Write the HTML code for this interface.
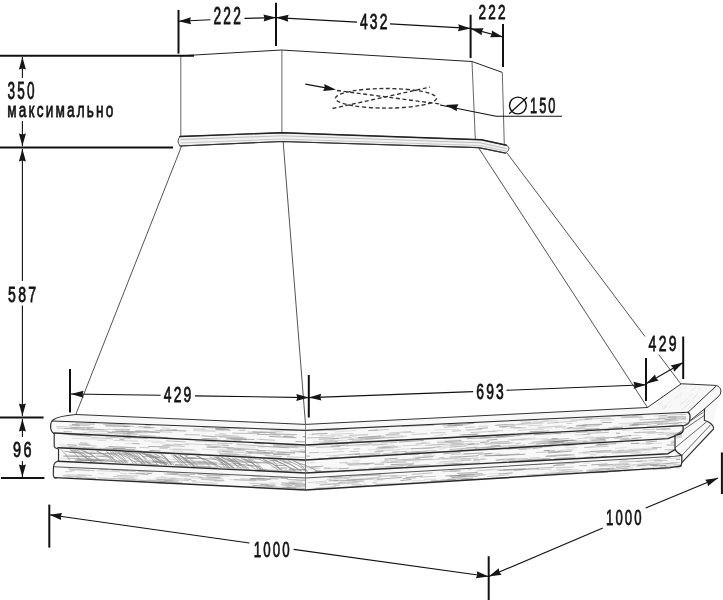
<!DOCTYPE html>
<html><head><meta charset="utf-8"><style>html,body{margin:0;padding:0;background:#fff;overflow:hidden}svg{display:block;will-change:transform}</style></head>
<body><svg width="723" height="600" viewBox="0 0 723 600">
<rect width="723" height="600" fill="#fff"/>
<path d="M75.8,414.5 L305.5,424.4 L647.5,407.5 L681,384.2 L715.8,386.3 Q722,388 720,393 L712,428 L683,465 L305.5,490 L54,477.5 Q51,470 54,466.7 L58,461 L58,449 L54,447 L54,434.5 L51,432 L51,422 Q52,417 75.8,414.5 Z" fill="#f8f8f8"/>
<path d="M260.0 431.3L279.6 431.5M329.2 430.6L335.4 430.2M134.0 427.3L153.1 428.6M354.7 438.0L360.1 437.9M319.9 435.6L337.5 435.3M654.6 422.4L676.4 421.2M176.1 438.7L190.7 438.9M528.3 429.9L543.8 429.4M70.6 433.3L87.2 433.7M563.8 429.0L585.6 427.5M73.4 429.4L88.5 430.2M576.7 430.2L596.5 429.0M621.6 424.2L645.1 423.0M439.4 435.0L447.0 434.2M512.9 428.4L524.7 427.9M341.0 436.9L356.5 436.6M98.0 433.6L112.9 434.1M327.4 430.4L347.3 429.3M83.6 432.6L109.0 433.9M364.3 427.7L387.4 426.9M672.2 424.6L676.6 424.4M613.1 426.3L632.2 425.8M443.4 426.2L468.3 425.0M668.5 416.7L675.1 416.0M109.6 433.1L113.6 432.9M386.4 435.2L399.7 434.2M284.3 435.9L288.4 435.8M201.4 430.0L223.7 430.6M653.7 416.1L667.2 415.1M562.1 419.3L570.8 418.4M526.3 429.4L552.4 427.8M561.6 428.2L585.4 427.3M204.8 438.5L219.8 439.5M434.3 435.9L443.0 435.0M569.3 428.7L583.1 427.9M313.1 441.9L333.1 440.4M583.5 418.0L609.4 416.6M578.4 420.3L587.6 419.7M488.3 431.8L497.6 431.7M334.6 432.1L356.5 430.4M319.1 435.6L324.3 435.3M309.2 434.6L313.5 434.6M618.4 423.5L636.3 422.7M518.1 424.1L543.8 422.3M382.5 436.2L402.0 435.1M504.4 425.0L521.7 424.1M434.8 430.0L459.2 429.3M520.2 421.4L538.3 420.4M491.2 446.7L518.4 445.2M367.9 443.7L387.2 442.1M671.0 433.9L682.0 432.8M494.9 443.4L514.5 442.7M520.6 440.2L548.3 438.3M151.6 442.7L164.9 442.8M623.0 438.5L630.4 438.5M437.6 448.1L465.0 446.0M549.3 443.5L558.1 443.2M549.9 444.3L568.6 443.4M595.9 432.3L600.7 431.5M547.2 440.2L558.2 439.0M263.9 452.5L291.3 454.3M201.8 449.1L227.3 450.8M77.0 448.6L101.8 449.8M217.0 449.7L236.4 451.1M163.7 452.2L190.3 453.0M556.1 434.1L580.1 432.3M124.4 443.6L140.0 444.0M584.0 437.5L593.5 436.6M642.9 432.5L657.0 432.1M212.1 447.4L231.2 448.1M562.6 443.3L587.8 441.2M236.0 446.8L255.5 447.3M656.4 438.2L682.0 436.2M629.2 435.6L639.7 435.3M181.9 450.0L197.0 450.8M401.0 449.1L413.4 448.6M143.8 440.8L162.5 441.4M58.7 444.7L76.8 445.6M72.0 438.2L97.5 439.2M540.2 440.2L568.2 438.6M659.8 432.7L674.3 432.1M314.1 445.7L331.6 444.3M423.0 448.6L431.7 448.1M415.6 445.5L422.5 444.7M439.7 449.5L445.2 448.6M337.6 449.6L342.9 449.7M436.7 441.5L461.7 439.7M276.4 453.5L284.8 453.4M325.6 455.5L333.4 455.3M250.6 452.3L258.9 453.1M367.7 449.8L393.9 448.5M525.2 434.7L545.9 433.5M362.4 445.2L389.3 444.1M219.5 449.5L246.8 451.0M171.5 451.0L183.2 451.4M356.1 446.0L369.0 444.7M621.9 430.6L633.0 429.9M478.7 444.1L494.0 443.3M469.5 442.0L487.4 440.9M199.1 462.7L205.8 463.1M561.4 450.4L573.9 449.5M551.5 446.0L559.9 445.9M200.7 467.5L217.1 468.1M227.4 460.2L243.4 460.7M412.1 462.0L419.5 461.8M614.2 443.4L623.0 442.8M478.3 454.5L500.7 453.5M205.5 455.4L210.6 455.6M651.4 448.8L657.3 448.8M628.1 449.6L655.8 447.5M271.3 467.5L296.1 468.3M358.1 468.8L366.0 468.6M668.5 451.0L674.0 450.2M480.5 456.3L500.5 455.1M60.6 458.2L85.1 459.4M221.0 467.1L245.6 468.1M352.6 460.6L360.1 460.7M154.5 456.4L160.9 456.5M486.7 456.0L502.2 455.5M442.4 459.5L465.6 457.9M183.3 461.9L188.7 461.8M85.6 459.5L112.9 460.8M557.8 450.6L571.1 449.9M262.3 459.1L284.4 460.0M565.9 447.9L578.0 447.6M586.0 447.6L594.8 446.5M284.6 469.6L293.4 470.6M467.6 460.8L471.8 460.0M85.6 460.6L96.7 460.8M307.9 463.0L314.9 462.2M443.3 453.7L461.0 452.2M83.2 456.5L95.1 456.6M615.5 452.8L639.5 451.8M161.1 458.5L180.5 460.0M207.4 463.3L224.9 464.6M642.1 443.9L662.3 443.0M615.1 448.4L626.5 447.5M70.0 450.2L93.5 451.3M630.2 454.0L650.2 452.4M402.3 460.8L424.3 460.0M451.2 462.3L462.7 461.3M219.5 466.2L224.5 466.8M583.1 453.6L601.0 452.4M497.2 459.7L515.7 458.7M194.1 461.0L216.4 462.0M454.0 459.5L468.4 459.3M98.5 453.0L102.8 453.6M635.6 443.7L646.3 443.4M423.0 455.1L431.8 454.5M625.2 451.4L651.1 450.3M582.8 452.0L606.5 450.7M436.3 463.3L453.2 462.6M494.8 459.4L514.9 458.8M535.7 464.9L541.5 464.1M189.5 477.7L217.1 479.5M557.5 463.7L574.4 462.6M655.4 459.2L680.0 457.9M657.7 465.3L675.9 464.4M98.4 473.5L104.3 474.0M583.7 463.1L589.8 463.1M75.8 470.0L89.7 470.9M289.3 479.6L305.5 480.3M599.2 466.3L615.9 465.8M301.9 479.6L305.5 479.7M269.2 482.6L277.7 483.5M549.8 467.0L556.0 466.9M344.1 478.5L351.0 478.2M376.0 483.8L396.7 483.1M63.9 474.8L86.0 476.2M394.7 483.9L414.5 483.2M362.6 483.9L366.8 484.1M66.9 474.7L92.0 475.4M281.7 488.0L290.7 487.9M665.0 465.7L671.7 465.3M360.8 474.9L385.6 473.9M478.8 470.0L493.9 469.3M351.2 479.1L367.6 478.1M424.2 479.4L436.3 479.3M440.6 479.9L455.2 478.8M66.5 476.2L72.1 476.8M334.0 484.2L359.7 483.0M549.5 471.0L564.4 470.5M153.7 478.8L169.7 480.1M411.6 480.8L425.4 480.5M149.0 479.8L166.8 481.2M229.4 479.4L255.5 481.1M84.9 477.5L108.4 478.4M430.9 481.2L436.8 480.6M626.9 469.8L642.2 469.4M222.3 485.6L228.4 485.7M488.5 473.9L500.9 473.4M119.4 480.1L129.9 481.1M215.2 476.0L223.0 475.9" stroke="#ccc" stroke-width="0.6" fill="none"/>
<path d="M115.3 431.1L141.1 431.9M120.9 431.2L129.4 431.1M159.9 430.0L186.3 431.0M70.2 427.7L78.2 427.6M303.2 436.7L305.5 436.8M681.7 418.8L686.0 418.0M631.9 424.7L643.1 424.3M268.8 436.4L296.4 437.7M358.1 437.6L381.3 435.9M401.4 426.3L424.6 425.5M230.5 438.6L246.6 439.4M585.2 419.3L592.1 418.9M478.8 428.5L487.9 427.8M215.5 429.3L230.7 430.2M499.0 426.9L515.4 425.8M127.1 435.6L136.6 436.5M150.1 436.7L167.8 437.7M226.4 438.8L254.3 439.5M143.8 431.6L159.9 432.7M201.4 435.7L216.4 436.8M447.3 425.9L462.9 425.2M201.8 438.8L217.4 439.0M215.5 428.2L228.9 429.2M283.2 436.3L293.9 436.2M311.9 434.1L327.5 433.5M143.9 427.3L150.1 427.4M257.2 434.3L280.6 435.0M657.0 424.5L681.9 422.6M368.3 430.6L377.7 430.0M584.7 429.9L599.3 428.6M295.5 441.5L305.5 441.9M567.4 428.2L572.4 427.4M631.5 425.4L638.7 425.0M105.8 425.9L127.8 426.4M612.6 428.4L622.9 427.3M318.6 439.2L338.8 438.5M601.7 422.6L611.9 422.4M252.7 431.8L275.8 432.8M107.8 432.5L130.5 433.6M529.8 431.7L549.5 431.0M664.7 419.5L681.2 418.9M222.8 441.0L240.7 441.6M467.5 423.2L471.5 422.8M71.9 424.4L79.7 425.2M668.3 417.3L686.0 416.9M448.3 425.0L474.1 423.4M126.5 432.1L134.4 433.0M75.4 423.9L94.9 424.1M123.5 426.7L130.2 426.4M575.8 426.1L586.7 425.1M443.0 438.3L457.0 437.4M273.1 454.4L290.0 454.8M261.4 446.2L288.8 447.8M553.6 441.9L568.0 440.7M616.0 433.2L620.2 433.3M533.5 434.8L561.1 433.2M105.2 448.0L125.3 448.5M221.6 445.0L228.9 445.4M318.2 458.7L324.0 458.5M68.9 434.7L90.5 436.3M123.9 437.3L147.6 438.4M119.5 439.3L124.3 439.9M457.7 450.1L463.1 449.9M616.8 436.9L631.0 435.5M475.1 448.5L501.1 446.4M63.1 433.8L82.8 435.1M487.0 440.3L497.5 439.3M549.1 442.0L576.7 440.2M480.2 442.6L489.2 441.8M551.6 438.5L557.7 438.6M256.9 450.8L265.8 450.9M253.7 443.2L264.4 443.8M536.3 444.0L563.4 442.1M268.1 458.1L281.2 458.2M404.9 452.4L419.9 452.0M596.2 438.3L622.4 437.0M598.6 441.2L605.9 440.7M330.8 446.3L344.8 445.3M495.9 436.6L520.7 435.5M226.9 448.7L245.0 449.9M148.2 446.4L170.1 447.1M143.3 451.6L165.9 453.2M222.4 451.5L232.9 452.1M444.9 441.6L461.4 440.6M547.4 442.0L573.3 440.0M149.7 450.3L160.4 451.0M276.9 452.0L295.2 453.1M656.2 429.3L670.4 429.0M678.1 433.5L682.0 433.2M248.0 452.9L252.1 452.9M246.1 451.6L273.1 452.9M305.5 456.0L310.1 456.2M113.3 448.5L134.9 449.9M467.6 444.7L479.1 443.9M490.9 446.1L500.4 445.2M218.9 455.2L227.0 455.4M108.6 446.5L136.1 447.9M631.7 438.6L641.8 437.5M410.9 448.8L434.5 447.7M591.4 440.4L605.6 439.3M467.0 438.7L491.7 437.4M399.1 442.0L423.8 440.4M590.2 451.5L611.3 450.7M394.2 467.8L402.8 467.3M85.6 458.9L112.6 460.1M289.0 469.1L305.5 469.9M486.1 449.7L513.8 448.0M390.6 464.6L414.0 463.8M75.2 462.0L90.9 462.7M233.5 463.5L239.9 463.5M269.5 460.4L278.0 460.9M452.9 464.1L462.0 463.4M458.4 457.0L478.7 455.7M666.5 445.0L674.0 445.1M152.5 461.2L166.1 462.4M258.8 469.6L265.4 470.2M645.9 442.2L657.1 441.0M670.8 443.3L674.0 442.6M601.5 456.7L606.3 456.1M83.3 456.3L92.8 456.6M507.3 448.9L532.8 446.9M197.5 462.2L216.7 463.2M69.3 452.4L96.5 453.4M310.6 467.4L323.3 466.1M527.2 459.5L550.5 458.7M153.6 461.7L161.9 462.6M228.6 461.0L238.4 461.8M314.6 471.7L334.1 471.0M532.7 448.5L542.0 447.5M122.4 452.4L144.5 453.6M484.3 455.7L502.3 455.3M595.4 445.3L607.4 444.6M185.2 457.2L193.5 458.0M149.5 464.6L158.5 464.5M323.9 468.1L330.7 468.2M463.7 454.0L483.4 452.9M238.5 461.8L260.5 462.8M183.1 458.2L194.4 458.8M415.4 458.1L433.3 456.5M275.0 465.3L287.0 465.7M543.7 450.6L549.3 450.4M518.6 449.3L526.5 448.7M546.1 456.1L555.2 455.9M193.6 458.2L216.2 459.3M243.6 469.6L260.3 470.9M339.1 468.9L349.1 468.2M283.3 471.7L288.7 472.3M238.8 464.3L252.9 465.5M484.2 453.8L492.1 453.4M547.3 451.1L554.7 450.7M159.6 462.9L167.7 463.1M300.5 469.4L305.5 469.6M247.6 465.4L260.3 466.6M597.6 444.4L616.1 443.7M631.0 443.5L639.3 443.3M190.8 463.7L217.0 464.4M190.8 457.8L197.1 458.3M96.3 456.1L113.6 457.3M537.7 446.7L553.9 445.7M374.4 464.2L383.9 464.1M553.8 459.1L565.7 459.0M519.1 460.8L545.1 459.6M247.7 457.9L255.9 458.2M548.0 452.9L571.7 451.1M384.4 459.2L397.7 458.2M76.9 459.9L104.3 460.7M64.5 451.3L77.0 452.4M500.1 455.5L525.3 454.2M63.0 456.1L84.9 456.8M89.9 453.0L116.2 454.0M347.3 464.3L374.3 463.1M174.8 464.5L182.7 464.9M373.0 468.8L386.2 468.6M74.8 460.0L98.3 461.0M460.7 479.9L482.3 478.9M257.4 478.7L270.7 479.6M589.5 471.0L609.6 469.6M250.7 479.1L255.8 479.3M295.0 485.7L305.5 486.2M281.4 482.9L305.5 484.1M449.7 471.1L460.5 470.9M130.7 481.2L146.3 481.6M447.6 479.5L473.3 478.2M624.1 471.0L631.3 470.3M659.9 465.9L666.2 465.5M313.1 489.1L323.3 488.9M445.5 475.9L465.7 475.1M346.5 480.0L373.8 478.9M135.6 473.3L144.8 473.4M286.4 487.4L305.5 488.4M615.8 467.3L629.7 466.5M99.7 468.9L107.9 469.5M503.4 469.7L526.5 468.7M206.3 477.0L220.5 477.7M598.8 469.2L614.3 468.1M139.0 480.3L165.7 481.7M328.9 478.0L342.4 476.7M75.9 477.7L96.0 478.8M164.4 480.6L178.6 481.1M328.7 480.8L338.4 480.5M590.9 472.5L615.8 471.1M281.2 477.9L288.0 478.7M513.9 470.1L538.8 468.7M607.1 471.9L621.5 470.9M638.0 465.6L645.4 465.3M499.4 470.4L523.5 469.6M146.3 473.1L152.0 473.7M458.8 475.0L482.8 473.7M650.1 465.5L657.8 465.2M400.4 480.6L411.2 479.5M250.1 478.5L264.6 478.7M665.5 457.9L670.9 457.1M260.6 484.5L268.6 484.8M159.3 481.7L182.4 482.9M451.2 477.7L467.5 476.3M676.0 459.5L680.0 459.4M591.7 472.8L607.5 472.3M457.3 473.4L477.7 472.5M591.3 464.9L607.5 463.9M156.5 482.6L167.8 483.7M449.6 476.4L474.1 474.8M498.6 474.1L512.7 472.9M184.4 478.8L191.2 479.5M483.0 478.7L510.8 477.2M652.8 465.9L666.0 465.7M377.0 479.4L401.9 477.4M553.2 465.5L564.7 464.9M405.7 477.6L422.8 476.0M353.3 475.9L380.7 474.9" stroke="#777" stroke-width="0.6" fill="none"/>
<path d="M424.9 425.7L434.2 425.3M238.5 430.3L245.3 430.4M349.3 441.7L362.0 440.7M659.4 415.9L667.6 415.2M63.6 431.6L72.0 431.8M494.6 425.5L507.4 424.4M391.5 437.6L403.4 436.6M657.7 418.7L666.9 417.9M629.2 425.2L651.2 424.0M347.8 439.4L353.8 438.7M387.7 439.7L402.2 439.4M138.4 426.5L154.6 427.6M360.0 439.2L385.2 437.3M608.2 428.1L618.4 427.6M621.1 417.8L642.3 417.0M306.9 438.0L334.7 437.0M223.3 428.1L246.0 428.7M647.2 422.5L670.4 420.8M319.2 443.2L338.1 441.6M452.1 431.2L461.0 430.7M667.3 417.5L676.5 416.8M247.7 432.0L265.7 432.8M510.0 427.8L520.8 427.4M576.6 425.5L602.1 424.4M582.6 424.9L601.6 424.1M214.9 428.3L225.3 429.0M357.8 438.1L380.2 437.0M665.9 419.4L676.4 418.5M135.3 431.0L154.4 432.2M462.1 435.2L477.5 434.0M74.4 427.3L94.0 427.6M98.5 429.3L107.3 430.0M517.6 433.6L544.0 432.0M232.3 433.1L259.2 433.7M87.0 428.6L100.0 429.6M259.7 439.4L275.1 440.3M633.4 423.2L660.0 421.3M321.3 444.0L348.6 442.1M521.0 423.3L530.9 422.5M632.1 415.6L643.1 414.7M270.2 429.9L298.2 430.5M316.9 430.3L339.3 429.6M302.2 436.7L305.5 436.9M112.1 431.4L125.0 432.0M365.0 439.3L392.2 437.5M639.5 419.9L665.2 418.8M459.4 435.0L478.3 434.1M154.6 430.0L162.2 430.9M349.1 435.3L368.0 434.7M113.8 429.3L130.0 429.5M596.0 429.4L617.5 428.6M138.9 435.7L149.8 436.6M157.6 437.2L177.9 438.6M385.5 434.6L399.5 433.7M184.6 434.6L200.0 434.9M63.8 428.5L90.4 429.2M610.4 416.3L620.7 415.5M219.1 455.0L229.9 455.2M162.1 445.2L184.7 446.4M244.7 453.0L269.0 453.7M666.2 435.3L682.0 434.2M159.0 448.1L167.7 448.1M490.1 442.6L509.3 441.4M68.3 446.4L84.7 447.4M79.9 442.7L87.7 443.4M345.3 445.8L371.6 443.8M531.7 442.1L554.4 440.8M223.4 447.3L233.5 447.7M272.9 446.2L298.6 447.8M359.2 455.5L380.0 454.0M308.7 452.9L319.3 452.3M604.6 430.4L609.5 430.3M335.5 443.7L348.8 443.1M353.6 449.0L360.1 448.9M67.1 444.5L76.9 445.2M633.7 432.7L655.6 431.7M479.7 438.1L502.9 436.7M236.6 444.3L262.0 446.1M273.1 445.1L290.4 446.3M290.1 446.3L305.5 447.0M302.1 452.1L305.5 452.3M216.9 443.1L232.4 443.4M561.5 443.7L586.9 442.2M194.8 440.9L215.9 441.9M316.2 447.3L340.2 446.6M668.6 425.8L682.0 424.9M328.5 457.4L337.7 457.0M165.7 440.8L185.8 441.9M381.4 448.0L397.8 446.6M335.5 443.9L358.8 442.2M403.7 453.6L408.1 453.8M219.6 453.6L238.9 454.5M132.4 443.3L139.7 443.7M173.4 444.1L182.2 444.7M355.1 454.6L359.9 454.1M234.3 456.3L245.4 457.2M298.8 451.8L305.5 452.2M548.7 443.7L564.7 442.6M392.1 452.2L406.5 451.3M111.0 449.3L122.8 450.3M290.4 450.9L305.5 451.6M451.1 445.1L474.7 443.4M411.0 452.0L436.5 450.6M449.6 449.6L476.3 447.5M534.3 433.6L539.6 433.0M77.9 444.2L90.1 444.4M348.4 454.7L358.1 454.0M98.6 448.6L121.9 450.1M232.8 448.1L258.6 449.7M515.5 443.9L520.5 443.0M620.1 439.8L638.1 438.9M374.4 451.6L383.4 451.3M493.0 437.2L514.0 436.2M264.8 455.5L282.0 456.6M576.3 432.4L587.3 431.6M581.6 434.7L590.0 434.4M433.2 447.5L440.6 446.7M378.2 447.8L390.3 447.0M586.9 433.4L608.7 432.4M206.4 447.4L216.7 447.6M408.1 465.6L428.4 464.9M494.4 455.3L519.7 454.0M553.7 456.1L558.0 455.6M129.4 463.7L149.6 464.4M192.8 466.4L211.0 466.7M253.0 462.3L268.6 462.7M342.1 470.9L347.2 470.2M449.7 456.9L460.4 456.7M369.3 468.3L392.7 467.6M303.2 470.2L305.5 470.3M502.8 461.3L526.9 459.8M496.0 460.6L503.8 459.6M443.5 453.8L460.6 452.5M219.1 464.1L240.8 465.6M190.9 466.5L216.5 467.6M555.3 458.4L575.5 457.1M406.4 460.1L432.5 459.1M88.4 459.9L102.9 460.5M141.9 456.4L158.0 457.1M134.0 458.5L141.2 458.8M385.4 466.7L412.4 464.7M583.9 457.6L593.2 456.5M283.6 462.0L291.6 462.3M152.0 461.8L164.8 462.4M177.6 466.6L198.7 467.4M670.9 441.4L674.0 441.1M460.5 463.8L480.2 462.9M565.6 445.2L574.8 444.6M90.1 461.1L95.8 461.5M68.7 458.3L90.4 459.0M473.7 459.7L484.8 458.8M493.6 455.5L507.8 455.2M259.2 468.9L266.8 469.6M300.4 460.3L305.5 460.6M462.1 460.6L470.8 459.7M183.6 460.7L206.0 462.1M80.7 456.2L87.0 456.7M315.0 470.6L320.8 470.5M246.3 461.0L252.8 461.0M364.6 464.1L371.4 463.7M564.3 445.9L576.4 444.7M79.8 459.7L87.3 460.1M152.9 457.5L160.2 457.5M101.8 460.7L125.0 462.1M175.0 465.5L188.8 466.2M134.1 461.0L139.1 461.6M255.6 469.2L278.5 470.4M300.0 459.9L305.5 460.2M664.5 449.9L674.0 449.6M166.6 461.4L194.2 462.9M420.6 466.4L443.2 465.0M305.6 467.0L317.7 466.7M386.5 462.6L406.6 462.0M507.5 459.3L527.8 458.6M652.3 447.8L661.9 447.3M233.0 469.2L250.8 470.3M526.4 448.2L551.9 446.2M554.0 452.3L560.4 451.4M443.5 464.1L459.1 463.4M504.8 449.1L520.1 448.1M618.1 450.6L623.6 450.0M631.2 450.5L657.3 448.7M437.7 458.9L457.8 457.8M665.3 463.8L677.8 462.6M609.0 471.1L620.9 470.7M637.2 465.2L659.8 464.0M502.7 478.1L510.9 477.6M167.0 473.2L178.3 473.6M287.2 479.5L305.5 480.4M234.0 479.7L256.4 480.4M402.5 478.7L416.2 477.8M124.7 480.5L141.3 481.0M664.7 466.9L676.0 466.1M141.9 473.8L148.8 474.7M659.7 467.9L665.4 467.9M411.9 474.4L432.5 472.9M333.6 480.9L355.9 480.2M653.7 460.7L667.6 460.5M252.2 485.3L272.9 486.6M456.7 477.1L477.6 476.4M431.1 480.9L456.1 479.5M164.3 474.0L189.9 475.6M68.1 468.9L94.5 470.7M111.6 470.1L128.0 470.4M253.2 485.5L271.7 486.3M256.5 478.2L278.3 479.0M289.8 482.0L302.9 482.1M527.5 468.5L553.6 467.3M271.5 486.6L295.8 488.3M197.7 474.2L203.3 474.8M636.2 461.7L647.4 460.8M653.0 469.3L670.4 468.6M619.6 462.2L642.4 460.9M378.4 476.3L396.9 475.7M265.7 485.5L275.6 485.6M598.4 465.7L612.9 464.6M69.6 469.9L75.0 470.5M646.9 465.0L673.0 462.9M319.5 485.1L340.5 483.5M201.2 484.6L229.0 486.2M641.8 468.4L654.4 467.9M372.7 482.8L376.8 482.7M171.6 473.9L195.2 474.5M579.1 465.7L587.1 465.7M351.7 484.9L361.7 484.8M156.2 479.3L173.4 480.1M285.4 484.1L305.5 485.1M269.9 477.8L283.0 478.0M367.2 478.3L379.1 477.7M356.0 486.2L364.7 486.3M280.9 484.5L292.1 485.6M570.4 463.0L579.3 462.1M676.2 467.8L680.0 467.8M338.4 482.5L364.6 481.1" stroke="#999" stroke-width="0.6" fill="none"/>
<path d="M411.6 434.4L427.5 433.7M496.4 425.1L514.2 424.3M537.7 427.4L562.7 425.9M430.5 432.9L445.4 432.6M681.7 422.9L686.0 422.5M89.1 422.4L96.8 422.2M442.7 425.2L451.6 424.6M219.3 437.0L246.2 438.2M73.6 424.8L89.7 425.8M219.4 433.5L226.5 434.3M335.2 438.3L351.4 437.5M501.0 434.5L514.7 433.6M231.8 439.0L240.2 439.8M647.0 426.4L657.3 425.4M580.3 426.8L599.6 425.7M674.6 423.4L678.9 423.3M172.8 429.5L176.9 429.5M668.8 420.4L678.6 420.4M193.3 429.1L205.3 429.1M372.7 430.6L388.9 429.2M570.7 420.1L588.8 419.1M470.3 432.6L495.4 431.2M104.8 425.2L114.9 425.9M349.5 439.6L377.4 438.2M103.0 424.3L124.9 424.9M139.5 435.0L155.8 436.2M272.7 434.2L296.9 434.6M584.6 419.1L610.9 418.1M88.5 430.9L107.8 431.3M136.2 430.6L148.5 430.9M226.3 438.1L242.2 438.9M635.5 423.2L646.8 422.2M388.8 433.1L411.1 431.5M56.7 428.0L84.6 429.0M145.4 425.3L150.8 425.4M269.6 433.5L296.6 434.7M123.6 433.0L138.8 434.1M547.2 423.3L557.9 422.5M233.3 440.4L241.8 440.3M122.6 431.6L141.5 432.1M113.4 425.7L134.1 426.4M476.7 428.5L482.0 428.5M81.9 429.4L104.1 429.8M130.2 431.9L147.4 432.9M464.9 427.6L474.9 426.9M566.6 423.7L572.2 423.3M146.5 431.5L172.5 432.2M555.0 422.5L577.5 420.9M214.8 434.8L239.3 436.2M215.8 436.2L243.4 437.5M501.7 427.6L507.2 426.9M106.7 431.6L114.9 432.5M202.3 427.3L214.4 428.0M651.2 423.6L663.0 423.4M554.9 427.4L566.0 426.6M69.2 425.2L80.0 425.9M629.5 425.0L648.0 424.0M415.7 443.8L430.1 443.0M614.3 438.5L628.4 437.9M528.3 443.6L547.8 442.3M382.6 453.7L397.4 452.9M265.1 453.1L285.8 454.1M589.6 439.2L609.0 438.0M449.5 447.2L467.4 445.7M349.7 451.4L359.1 451.4M472.9 447.9L496.0 446.4M357.5 454.3L380.6 452.8M256.5 450.4L275.5 450.9M65.4 433.8L92.2 435.3M543.4 440.2L569.3 438.5M465.8 447.8L477.7 446.9M508.4 446.5L525.5 444.9M286.9 456.7L305.5 457.6M450.2 443.7L463.5 443.3M484.7 444.2L510.2 443.1M90.9 437.4L113.0 438.9M425.2 445.4L444.9 444.3M635.6 432.8L640.2 432.1M257.9 446.8L264.7 446.9M676.4 437.9L682.0 437.1M333.3 455.5L360.0 453.7M105.6 437.1L124.2 438.0M582.5 442.5L599.0 441.3M139.4 447.3L149.4 447.8M79.0 444.8L96.8 446.1M661.6 429.3L670.0 428.3M206.5 445.8L220.9 447.1M566.2 442.6L571.5 442.3M390.2 443.1L397.2 442.2M376.8 447.3L394.8 445.7M157.6 452.0L169.4 452.4M675.3 434.2L682.0 433.7M115.5 448.7L141.6 450.6M293.6 451.8L305.5 452.3M511.2 440.4L526.3 439.0M270.9 451.8L294.5 452.5M285.5 445.5L297.0 445.7M258.1 453.8L270.6 454.0M208.1 446.7L229.3 447.4M164.6 444.1L173.1 445.1M303.9 450.9L305.5 451.0M308.4 446.1L315.4 446.1M372.0 445.3L386.9 444.0M642.4 429.7L655.2 429.3M274.5 443.6L298.5 445.0M482.3 436.2L494.0 435.9M204.9 444.3L221.3 445.1M83.2 447.6L94.5 447.7M336.5 445.4L348.2 444.7M459.8 450.3L475.6 449.7M61.2 446.9L80.7 448.0M647.5 433.5L663.5 432.2M658.1 434.5L681.6 432.6M144.0 462.6L149.4 462.6M405.7 466.6L430.6 464.8M359.7 458.0L369.9 457.0M596.5 452.8L620.5 451.6M563.0 455.5L574.9 454.8M583.9 447.5L608.8 446.3M245.1 461.6L266.6 462.7M105.1 453.1L131.3 454.5M229.4 460.1L233.9 459.9M403.4 459.6L420.1 458.3M65.6 455.0L85.3 456.3M78.9 449.2L99.9 449.9M193.0 462.4L200.8 463.2M647.5 443.3L652.7 443.3M461.0 458.7L478.2 458.0M541.4 459.1L546.5 459.0M278.1 459.7L305.5 461.1M104.2 461.0L124.1 462.4M382.5 462.5L388.6 461.7M439.4 457.7L444.4 457.3M183.8 455.5L189.0 455.4M549.5 456.0L570.7 454.5M271.4 470.7L291.2 471.1M409.0 454.6L419.1 454.6M473.0 460.7L480.3 460.7M578.5 453.1L589.6 452.0M299.3 464.5L305.5 464.8M520.4 447.9L532.2 446.8M554.2 455.3L567.3 455.1M348.7 465.3L368.8 464.4M535.6 452.5L562.2 451.2M152.8 461.7L174.9 462.8M611.9 453.0L635.6 451.8M140.6 461.6L161.5 462.7M280.9 468.2L286.6 468.9M390.2 461.7L405.9 460.6M339.2 463.0L347.7 462.4M545.2 456.7L567.8 455.1M222.0 461.1L229.9 461.6M283.4 470.6L299.1 470.8M185.2 462.1L211.2 463.7M586.2 471.7L592.7 471.2M248.9 479.4L264.8 480.2M555.9 464.4L574.8 463.1M496.9 470.4L508.1 469.5M531.7 474.8L559.6 473.5M611.2 469.7L628.0 468.2M487.0 476.5L509.0 474.9M333.6 485.4L339.9 485.5M240.6 478.7L267.0 480.4M282.9 485.9L290.2 486.6M220.1 474.3L226.5 474.5M623.7 465.0L629.2 464.3M391.2 476.3L407.1 475.5M146.5 480.1L173.2 481.7M182.0 483.9L196.9 484.3M214.0 480.9L223.3 480.9M419.8 477.1L435.8 476.2M616.8 471.1L625.5 470.0M287.4 485.9L300.5 486.5M601.9 465.2L628.1 463.4M113.0 476.6L133.7 477.3M558.4 472.3L582.6 470.8M439.6 481.0L448.5 480.2M137.9 471.4L153.0 471.9M303.4 484.6L305.5 484.7M122.3 470.8L135.6 471.4M536.7 469.4L551.4 469.1M442.1 471.7L457.0 471.0M346.7 483.4L357.9 482.2M122.8 479.1L134.9 479.4M467.6 469.6L471.6 469.0M62.5 475.6L81.1 477.0M198.2 477.3L223.4 479.0M544.5 473.5L569.4 471.7M249.4 483.3L274.8 484.4M315.8 488.1L335.8 486.6M679.2 458.9L680.0 458.9M119.4 478.7L137.9 479.1M191.1 480.4L196.4 481.0M334.0 478.4L352.2 476.9M648.4 460.3L661.1 460.0M128.5 473.3L147.2 474.3M168.9 479.2L189.0 480.7M635.7 466.3L647.3 465.5M674.2 464.8L680.0 464.8M555.9 467.9L573.6 466.9M606.7 470.1L612.7 469.7M116.9 475.4L138.2 476.1M200.8 479.1L224.5 480.7M251.8 476.1L260.8 476.0M340.1 480.9L362.7 480.1M98.0 478.0L125.5 478.9M288.0 482.0L295.2 482.9M203.4 475.4L229.6 476.0M206.7 474.9L222.1 475.5M179.7 475.8L202.3 477.1" stroke="#aaa" stroke-width="0.6" fill="none"/>
<path d="M515.6 424.8L543.1 423.0M193.5 430.6L215.2 431.4M106.8 429.1L124.0 430.3M600.3 420.5L614.3 419.6M657.9 421.6L673.3 420.3M366.5 438.2L394.2 437.1M329.4 438.9L335.5 439.1M256.7 439.1L261.1 439.4M572.5 428.9L592.7 428.4M517.8 428.1L526.4 427.6M123.0 434.2L137.3 434.9M478.4 426.5L488.3 425.8M109.6 423.8L128.9 425.1M621.7 416.9L638.3 416.4M492.1 431.0L503.1 430.5M654.5 422.7L668.2 422.2M330.8 434.3L353.4 433.5M402.0 436.2L407.2 436.2M161.4 427.6L170.4 428.4M402.7 432.7L414.7 432.4M528.3 425.8L542.2 425.1M114.3 434.7L127.6 435.5M323.9 440.9L347.2 440.2M56.1 426.3L82.4 427.8M668.3 414.9L686.0 414.3M369.9 437.3L384.0 436.3M638.9 417.9L643.7 417.5M467.1 430.4L482.3 429.4M465.2 429.9L482.3 428.6M681.2 419.3L686.0 419.4M680.3 414.2L686.0 414.3M323.0 441.7L336.7 441.4M543.0 421.2L548.3 420.6M275.2 432.0L283.3 431.8M337.5 435.7L342.0 435.7M532.4 422.2L557.9 420.7M444.0 427.6L456.9 426.6M517.8 430.6L527.1 429.8M166.0 429.8L177.2 429.7M506.7 421.0L531.0 420.2M351.8 440.4L372.5 439.8M658.1 417.1L683.3 416.2M617.5 416.7L642.3 416.0M533.1 446.2L537.2 445.9M548.6 440.9L561.2 440.0M185.0 443.7L210.7 444.9M231.8 454.8L246.9 455.0M217.0 452.1L221.1 452.0M218.6 451.6L244.1 452.6M502.4 443.6L512.4 442.9M381.0 442.8L398.8 441.9M376.6 450.9L400.5 449.6M214.0 446.9L219.5 446.6M520.2 446.5L536.8 445.1M436.7 446.6L461.2 444.9M393.8 452.9L397.9 453.1M491.6 442.4L502.7 441.8M375.7 448.8L401.2 446.8M447.4 442.7L472.1 441.2M320.4 453.0L344.3 451.4M135.9 451.2L142.0 452.1M572.3 441.3L586.4 440.7M673.6 436.4L682.0 435.5M512.8 435.4L531.9 434.6M299.5 450.0L305.5 450.3M437.2 443.0L464.0 441.8M577.2 438.7L604.7 436.8M227.4 454.1L250.8 455.5M169.1 449.2L181.8 449.9M544.1 444.0L554.0 443.9M189.7 453.3L200.4 453.3M622.3 439.2L627.4 439.2M225.7 453.9L237.7 454.1M91.6 448.0L111.6 448.7M578.9 432.3L601.0 431.7M420.9 442.2L426.5 442.2M583.0 441.8L598.9 440.3M567.2 442.8L578.9 442.3M416.8 452.0L427.8 450.9M78.7 448.4L83.9 448.5M235.8 449.0L256.4 449.7M339.6 443.4L345.3 442.8M487.9 446.9L515.6 445.7M122.8 438.2L130.9 438.6M83.5 448.1L108.0 449.1M402.7 445.9L417.9 444.9M114.0 440.4L138.0 441.1M508.3 439.9L535.3 438.0M429.1 445.2L456.8 443.7M97.3 440.2L106.7 440.2M617.5 428.8L638.4 427.6M574.8 434.8L581.0 435.0M333.0 449.1L349.1 448.5M182.1 444.3L189.4 444.9M479.8 438.3L507.3 437.2M237.2 450.5L242.3 450.8M464.8 437.9L486.8 436.1M120.0 447.1L131.4 447.8M333.4 457.9L339.6 457.0M344.3 457.3L370.1 456.2M437.3 442.7L455.0 442.3M173.4 449.0L194.4 449.7M444.7 465.0L461.1 464.0M301.0 466.4L305.5 466.7M97.1 454.7L108.9 455.9M143.3 452.1L168.2 453.3M416.4 466.8L429.0 466.5M590.1 454.9L596.2 454.7M147.6 462.7L153.7 463.3M413.0 457.2L431.9 456.5M528.7 458.0L540.1 457.7M384.5 460.5L405.5 459.2M184.8 464.4L204.2 465.0M345.2 463.4L359.1 462.8M305.2 464.6L305.5 464.6M206.8 462.2L234.5 463.8M395.4 460.3L419.2 459.3M257.7 462.9L282.4 464.0M380.1 462.1L386.2 461.7M424.0 459.8L439.1 459.3M374.2 467.1L394.3 466.3M392.6 467.4L403.6 466.6M174.3 461.1L190.8 461.4M216.6 467.1L233.9 467.9M478.2 454.5L488.1 453.8M496.3 460.2L514.5 459.1M280.7 467.8L286.9 467.5M368.1 468.3L372.5 468.6M520.5 449.8L530.9 448.6M439.6 461.9L463.2 460.4M423.4 455.9L435.0 455.8M481.2 459.8L486.8 458.9M450.7 454.6L469.7 453.9M116.7 460.6L129.1 460.8M617.6 451.9L638.6 450.6M547.3 455.8L573.9 454.7M243.9 459.3L261.0 459.6M606.4 451.5L631.8 449.9M263.3 461.9L274.4 462.2M635.8 452.5L641.3 452.4M148.7 460.5L166.6 460.8M227.2 468.0L242.6 468.9M307.5 469.1L320.2 468.2M223.8 459.1L249.7 460.3M646.1 444.3L652.2 443.5M328.2 468.6L341.4 468.2M142.2 452.2L151.3 452.7M209.0 467.3L217.8 467.1M578.4 470.8L583.1 470.7M294.6 479.8L302.5 480.7M321.2 481.6L326.7 480.8M156.5 477.7L176.1 478.7M192.1 481.8L217.3 483.3M65.1 471.6L72.5 471.5M460.6 475.5L485.7 474.5M609.3 469.4L633.7 467.7M202.5 473.9L217.0 474.1M373.8 480.2L383.0 479.8M374.5 478.2L381.0 477.8M632.6 464.8L654.2 463.0M465.6 476.7L486.4 474.9M618.6 461.2L627.8 460.1M642.2 463.6L662.5 461.8M201.5 479.3L217.7 480.6M475.7 471.1L501.4 469.2M562.5 470.5L577.9 469.7M160.7 476.7L166.6 477.4M374.2 484.7L393.0 483.7M419.4 482.6L437.2 481.4M349.2 476.6L361.6 475.7M97.0 470.7L120.0 471.7M327.7 477.0L354.1 475.1M75.3 475.9L84.6 476.1M557.4 469.8L572.2 469.4M612.1 466.0L629.3 464.5M351.0 486.8L369.5 485.5M301.4 480.7L305.5 480.8M527.0 474.8L537.1 474.4M551.2 473.7L578.7 472.6M592.6 469.1L604.0 468.4M430.3 482.5L455.8 480.5M77.8 474.6L92.1 475.6M587.1 470.2L608.2 468.6M320.5 484.7L330.7 483.8M170.6 477.8L185.1 479.1M307.7 482.6L321.9 481.6M586.1 470.4L598.6 469.9M614.6 464.6L631.3 464.2M63.5 477.0L74.4 477.5M326.8 479.5L348.8 478.6M131.4 479.9L143.2 480.4M626.9 466.2L634.3 465.4M120.2 473.2L126.9 474.0M322.3 484.3L345.7 483.2M672.7 463.3L680.0 462.5M110.2 478.8L135.7 479.5M315.8 483.5L327.3 482.3M460.9 474.5L472.3 473.8" stroke="#bbb" stroke-width="0.6" fill="none"/>
<path d="M117.4 452.2Q122.8 455.7 128.2 463.1M131.8 452.9Q138.7 456.4 145.6 463.9M273.8 459.9Q284.2 463.4 294.5 471.0M160.8 454.3Q166.3 457.8 171.8 465.1M70.7 449.9Q75.8 453.4 80.9 460.8M259.2 459.2Q269.0 462.7 278.8 470.2M96.8 451.2Q106.4 454.7 116.1 462.5M73.7 450.0Q82.3 453.5 90.8 461.3M138.8 453.2Q143.7 456.7 148.7 464.0M234.5 458.0Q244.9 461.5 255.4 469.1M180.0 455.3Q185.5 458.8 191.0 466.1M217.4 457.1Q225.3 460.6 233.2 468.1M215.4 457.0Q220.2 460.5 225.0 467.7M272.1 459.8Q276.1 463.3 280.2 470.3M112.3 451.9Q119.9 455.4 127.5 463.0M106.6 451.7Q111.4 455.2 116.2 462.5M221.5 457.3Q234.5 460.8 247.4 468.7M138.7 453.2Q145.1 456.7 151.5 464.2M217.6 457.1Q223.6 460.6 229.6 467.9M154.2 454.0Q164.4 457.5 174.6 465.3M161.2 454.4Q166.6 457.9 172.0 465.2M76.6 450.2Q85.4 453.7 94.3 461.5M292.8 460.9Q305.1 464.4 317.4 470.9M83.5 450.5Q92.0 454.0 100.5 461.8M174.8 455.0Q180.5 458.5 186.3 465.8M217.4 457.1Q225.9 460.6 234.3 468.1M250.1 458.8Q256.7 462.3 263.3 469.5M279.5 460.2Q290.8 463.7 302.1 471.3M171.3 454.9Q176.5 458.4 181.8 465.6M173.7 455.0Q178.8 458.5 184.0 465.7M221.1 457.3Q231.4 460.8 241.7 468.5M195.9 456.1Q208.6 459.6 221.4 467.5M70.6 449.9Q81.1 453.4 91.5 461.3M248.2 458.7Q253.2 462.2 258.2 469.3M135.7 453.1Q140.2 456.6 144.6 463.9M197.0 456.1Q207.5 459.6 218.0 467.3M141.8 453.4Q152.0 456.9 162.3 464.7M146.2 453.6Q156.6 457.1 167.0 464.9M125.1 452.6Q137.9 456.1 150.7 464.1M162.9 454.4Q166.9 457.9 171.0 465.1M81.5 450.4Q92.0 453.9 102.6 461.9M263.2 459.4Q272.9 462.9 282.7 470.4M96.5 451.2Q108.4 454.7 120.2 462.7M228.5 457.7Q233.5 461.2 238.5 468.3M149.4 453.8Q159.5 457.3 169.5 465.0M60.9 449.4Q65.2 452.9 69.6 460.3M143.1 453.5Q155.0 457.0 166.8 464.9M294.1 460.9Q301.0 464.4 307.9 471.4M273.6 459.9Q284.7 463.4 295.7 471.0M263.3 459.4Q272.6 462.9 281.9 470.4M287.8 460.6Q297.6 464.1 307.4 471.4M282.7 460.4Q291.8 463.9 300.9 471.3M106.2 451.6Q114.9 455.1 123.5 462.9M173.5 455.0Q180.5 458.5 187.6 465.9M147.8 453.7Q156.4 457.2 165.0 464.8M198.2 456.2Q204.2 459.7 210.2 467.0M125.2 452.6Q133.7 456.1 142.2 463.7M178.4 455.2Q186.2 458.7 194.0 466.2M216.1 457.1Q221.7 460.6 227.4 467.8M185.0 455.5Q191.5 459.0 197.9 466.4M241.0 458.3Q251.3 461.8 261.6 469.4M243.5 458.4Q252.2 461.9 260.9 469.4M118.5 452.2Q130.8 455.7 143.2 463.8M180.0 455.3Q187.4 458.8 194.8 466.2M128.2 452.7Q135.9 456.2 143.5 463.8M226.5 457.6Q237.9 461.1 249.3 468.8M173.4 455.0Q184.0 458.5 194.6 466.2M110.0 451.8Q118.1 455.3 126.2 463.0M144.1 453.5Q150.9 457.0 157.6 464.5M144.5 453.5Q155.3 457.0 166.1 464.9M232.3 457.9Q238.2 461.4 244.1 468.6M114.9 452.1Q126.0 455.6 137.1 463.5M213.8 457.0Q223.9 460.5 234.0 468.1M209.3 456.7Q219.5 460.2 229.8 467.9M124.1 452.5Q128.7 456.0 133.2 463.3" stroke="#888" stroke-width="0.65" fill="none"/>
<path d="M661.0 399.1l5.1 -4.5M692.4 398.3l5.1 -4.5M683.9 389.5l2.8 -2.4M683.4 408.7l4.3 -3.8M678.9 397.7l2.5 -2.2M692.8 399.3l4.9 -4.3M711.3 391.5l3.1 -2.8M674.4 399.0l5.2 -4.5M660.1 403.9l2.6 -2.2M713.2 389.7l2.7 -2.4M712.3 391.5l3.1 -2.7M685.3 406.6l2.9 -2.6M688.1 409.0l3.1 -2.8M685.0 400.9l2.5 -2.2M664.0 408.9l2.9 -2.6M662.9 409.0l4.4 -3.8M686.3 402.9l3.8 -3.4M654.7 403.1l4.0 -3.5M680.0 394.4l2.3 -2.0M713.2 391.6l2.4 -2.1M690.6 396.3l2.7 -2.4M661.9 408.2l3.9 -3.4M688.5 395.7l2.0 -1.7M667.3 403.9l3.1 -2.7M696.3 403.2l1.9 -1.7M690.5 385.2l4.7 -4.1M679.5 404.5l2.9 -2.6M681.0 410.4l4.5 -4.0M688.0 404.8l3.3 -2.9M683.0 384.3l2.9 -2.6M680.5 405.1l4.4 -3.9M698.1 390.1l3.0 -2.6M678.7 389.0l2.5 -2.2M690.7 391.7l5.2 -4.6M669.3 407.6l2.3 -2.0" stroke="#d4d4d4" stroke-width="0.5" fill="none"/>
<path d="M75.8,414.5 L305.5,424.4 L647.5,407.5" fill="none" stroke="#333" stroke-width="1.0" stroke-linejoin="round" stroke-linecap="round" />
<path d="M647.5,407.5 L681.25,383.75 L715.8,385.4 Q720.5,386.5 721,391 Q721,394.5 718.3,396.7 L704.4,409" fill="none" stroke="#333" stroke-width="1.0" stroke-linejoin="round" stroke-linecap="round" />
<path d="M52,420.96 L305.5,430.4 L688,412.3" fill="none" stroke="#2a2a2a" stroke-width="1.1" stroke-linejoin="round" stroke-linecap="round" />
<path d="M54,433.05 L305.5,445 L683.1,425.6" fill="none" stroke="#2a2a2a" stroke-width="1.4" stroke-linejoin="round" stroke-linecap="round" />
<path d="M58,447.75 L305.5,460 L668,438.6 L675,435.8" fill="none" stroke="#2a2a2a" stroke-width="1.4" stroke-linejoin="round" stroke-linecap="round" />
<path d="M58,461.24 L305.5,473 L668,453.7 L675.3,449.5" fill="none" stroke="#2a2a2a" stroke-width="1.4" stroke-linejoin="round" stroke-linecap="round" />
<path d="M54,466.74 L305.5,478 L675,456.2 L681.8,455.4" fill="none" stroke="#555" stroke-width="1.1" stroke-linejoin="round" stroke-linecap="round" />
<path d="M55,477.60 L305.5,490 L670,467.6 L680.8,466" fill="none" stroke="#2a2a2a" stroke-width="1.4" stroke-linejoin="round" stroke-linecap="round" />
<path d="M75.8,414.5 Q58,416 53,420 Q50.5,422 50.6,427 Q50.8,432 54.2,433.6 L54.2,446 Q54.5,448.3 58.5,449 L58.5,461 Q54,462 53.5,466.7 L53.3,475 Q53.8,478 56,478.2" fill="none" stroke="#333" stroke-width="1.2" stroke-linejoin="round" stroke-linecap="round" />
<path d="M305.5,424.4 L305.5,490" fill="none" stroke="#666" stroke-width="0.8" stroke-linejoin="round" stroke-linecap="round" />
<path d="M688,412.3 Q690.5,414 690,418 L689.6,421 Q689,424.5 683.1,426 L683.1,431 Q682,434 675,435.5 L675,449 Q676,452 681.8,455.4 L681.8,462.7 L680.8,466" fill="none" stroke="#222" stroke-width="1.2" stroke-linejoin="round" stroke-linecap="round" />
<path d="M688,412.3 L715.8,386.3" fill="none" stroke="#333" stroke-width="1.0" stroke-linejoin="round" stroke-linecap="round" />
<path d="M689.6,421 L704.4,409" fill="none" stroke="#333" stroke-width="1.0" stroke-linejoin="round" stroke-linecap="round" />
<path d="M704.4,409 L704.4,420.5 Q707,420.8 710,423 Q714,426 713.5,429 L681.8,462.7" fill="none" stroke="#333" stroke-width="1.1" stroke-linejoin="round" stroke-linecap="round" />
<path d="M683.1,426 L703,412.5" fill="none" stroke="#555" stroke-width="0.8" stroke-linejoin="round" stroke-linecap="round" />
<path d="M675,435.5 L704.2,415.5" fill="none" stroke="#444" stroke-width="0.8" stroke-linejoin="round" stroke-linecap="round" />
<path d="M675.3,447.6 L706.5,421.9" fill="none" stroke="#444" stroke-width="0.8" stroke-linejoin="round" stroke-linecap="round" />
<path d="M681.8,455.4 L710.2,425.2" fill="none" stroke="#444" stroke-width="0.8" stroke-linejoin="round" stroke-linecap="round" />
<line x1="181.6" y1="146" x2="75.8" y2="414.5" stroke="#4a4a4a" stroke-width="0.95" />
<line x1="283.2" y1="142" x2="305.5" y2="424.4" stroke="#4a4a4a" stroke-width="0.95" />
<line x1="478.7" y1="148" x2="647.5" y2="407.5" stroke="#4a4a4a" stroke-width="0.95" />
<line x1="507" y1="153" x2="645" y2="336.5" stroke="#4a4a4a" stroke-width="0.95" />
<line x1="658.7" y1="354.5" x2="681" y2="384.2" stroke="#4a4a4a" stroke-width="0.95" />
<polyline points="180.80,55.80 281.50,50.00 472.00,61.50 502.30,72.40" fill="none" stroke="#222" stroke-width="1.0" stroke-linejoin="round" />
<line x1="180.8" y1="55.8" x2="180.8" y2="136.5" stroke="#555" stroke-width="0.9" />
<line x1="281.9" y1="50" x2="281.9" y2="132.7" stroke="#555" stroke-width="0.9" />
<line x1="472" y1="61.5" x2="475.3" y2="139.4" stroke="#555" stroke-width="0.9" />
<line x1="502.3" y1="72.4" x2="504.3" y2="145.2" stroke="#555" stroke-width="0.9" />
<path d="M180,136.5 L282,132.7 L481.5,139.8 L506.4,145.2 Q512,148 505.7,153.2 L478.7,147.7 L282,141.5 L180,146 Q176,141 180,136.5 Z" fill="#f2f2f2" stroke="#444" stroke-width="0.9" stroke-linejoin="round" stroke-linecap="round" />
<path d="M180,136.5 L282,132.7 L481.5,139.8 L506.4,145.2" fill="none" stroke="#222" stroke-width="1.4" stroke-linejoin="round" stroke-linecap="round" />
<path d="M180,146 L282,141.5 L478.7,147.7 L505.7,153.2" fill="none" stroke="#333" stroke-width="1.2" stroke-linejoin="round" stroke-linecap="round" />
<path d="M181,139.5 L282,135.8 L480,142.8 L506,148.5" fill="none" stroke="#999" stroke-width="0.6" stroke-linejoin="round" stroke-linecap="round" />
<path d="M181,143 L282,139 L480,145.5 L506,151" fill="none" stroke="#aaa" stroke-width="0.6" stroke-linejoin="round" stroke-linecap="round" />
<g stroke="#333" stroke-width="1.4" fill="none" stroke-dasharray="4 2.6">
<ellipse cx="386" cy="98.3" rx="50.5" ry="9.8"/>
<line x1="337" y1="90.5" x2="442" y2="104.3"/>
<line x1="332.5" y1="108.5" x2="430" y2="87.1"/>
</g>
<line x1="305.3" y1="84.1" x2="330" y2="88.7" stroke="#111" stroke-width="1.2" />
<polygon points="336.00,89.80 323.07,90.96 324.69,87.70 324.35,84.08" fill="#151515"/>
<line x1="496" y1="116.3" x2="440" y2="105" stroke="#111" stroke-width="1.1" />
<polygon points="445.50,105.00 458.46,104.31 456.72,107.51 456.93,111.15" fill="#151515"/>
<line x1="496" y1="116.3" x2="562" y2="116.3" stroke="#111" stroke-width="1.1" />
<circle cx="517.9" cy="105.5" r="8.4" fill="none" stroke="#111" stroke-width="1.4"/>
<line x1="509.2" y1="113.7" x2="527.1" y2="97.3" stroke="#111" stroke-width="1.3" />
<line x1="178.5" y1="10" x2="178.5" y2="53.6" stroke="#111" stroke-width="2.0" />
<line x1="276" y1="2.7" x2="276" y2="46" stroke="#111" stroke-width="2.0" />
<line x1="470.6" y1="14.7" x2="470.6" y2="58" stroke="#111" stroke-width="2.0" />
<line x1="503" y1="24" x2="503" y2="67" stroke="#111" stroke-width="2.0" />
<line x1="178.5" y1="21.2" x2="210.4" y2="19.8" stroke="#111" stroke-width="1.1" />
<line x1="244.5" y1="18.4" x2="276" y2="17.6" stroke="#111" stroke-width="1.1" />
<polygon points="178.50,21.20 190.86,17.24 189.99,20.78 191.12,24.24" fill="#151515"/>
<polygon points="276.00,17.60 263.64,21.56 264.51,18.02 263.38,14.56" fill="#151515"/>
<line x1="276" y1="17.6" x2="357" y2="22.1" stroke="#111" stroke-width="1.1" />
<line x1="390" y1="23.9" x2="470.6" y2="28.4" stroke="#111" stroke-width="1.1" />
<polygon points="276.00,17.60 288.67,14.80 287.48,18.24 288.29,21.79" fill="#151515"/>
<polygon points="470.60,28.40 457.93,31.20 459.12,27.76 458.31,24.21" fill="#151515"/>
<line x1="470.6" y1="28.6" x2="503" y2="37" stroke="#111" stroke-width="1.1" />
<polygon points="470.60,28.60 483.58,28.35 481.73,31.49 481.82,35.13" fill="#151515"/>
<polygon points="503.00,37.00 490.02,37.25 491.87,34.11 491.78,30.47" fill="#151515"/>
<line x1="0" y1="55.7" x2="194" y2="55.7" stroke="#111" stroke-width="2.0" />
<line x1="0" y1="147.4" x2="173" y2="147.4" stroke="#111" stroke-width="2.0" />
<line x1="22.4" y1="57" x2="22.4" y2="78" stroke="#111" stroke-width="1.1" />
<line x1="22.4" y1="121" x2="22.4" y2="146" stroke="#111" stroke-width="1.1" />
<polygon points="22.40,57.00 25.90,69.50 22.40,68.50 18.90,69.50" fill="#151515"/>
<polygon points="22.40,146.00 18.90,133.50 22.40,134.50 25.90,133.50" fill="#151515"/>
<line x1="22.4" y1="149" x2="22.4" y2="281" stroke="#111" stroke-width="1.1" />
<line x1="22.4" y1="305.6" x2="22.4" y2="416" stroke="#111" stroke-width="1.1" />
<polygon points="22.40,149.00 25.90,161.50 22.40,160.50 18.90,161.50" fill="#151515"/>
<polygon points="22.40,416.00 18.90,403.50 22.40,404.50 25.90,403.50" fill="#151515"/>
<line x1="0" y1="417.4" x2="43.6" y2="417.4" stroke="#111" stroke-width="2.0" />
<line x1="1" y1="478" x2="44.4" y2="478" stroke="#111" stroke-width="2.0" />
<line x1="22.4" y1="419" x2="22.4" y2="437" stroke="#111" stroke-width="1.1" />
<line x1="22.4" y1="461" x2="22.4" y2="477" stroke="#111" stroke-width="1.1" />
<polygon points="22.40,419.00 25.90,431.50 22.40,430.50 18.90,431.50" fill="#151515"/>
<polygon points="22.40,477.00 18.90,464.50 22.40,465.50 25.90,464.50" fill="#151515"/>
<line x1="70" y1="369" x2="70" y2="412.5" stroke="#111" stroke-width="2.0" />
<line x1="308.8" y1="375" x2="308.8" y2="417.5" stroke="#111" stroke-width="2.0" />
<line x1="71" y1="394" x2="160.7" y2="395.2" stroke="#111" stroke-width="1.1" />
<line x1="195" y1="395.9" x2="308.8" y2="397.6" stroke="#111" stroke-width="1.1" />
<polygon points="71.00,394.00 83.55,390.69 82.50,394.17 83.45,397.69" fill="#151515"/>
<polygon points="308.80,397.60 296.25,400.91 297.30,397.43 296.35,393.91" fill="#151515"/>
<line x1="308.8" y1="397.6" x2="473.2" y2="391.6" stroke="#111" stroke-width="1.1" />
<line x1="506.4" y1="390.3" x2="646" y2="384.8" stroke="#111" stroke-width="1.1" />
<polygon points="308.80,397.60 321.16,393.63 320.29,397.16 321.42,400.62" fill="#151515"/>
<polygon points="646.00,384.80 633.64,388.77 634.51,385.24 633.38,381.78" fill="#151515"/>
<line x1="646" y1="358" x2="646" y2="401" stroke="#111" stroke-width="2.0" />
<line x1="683.2" y1="336.5" x2="683.2" y2="379" stroke="#111" stroke-width="2.0" />
<line x1="646" y1="383.7" x2="683.2" y2="362.4" stroke="#111" stroke-width="1.1" />
<polygon points="646.00,383.70 655.11,374.45 655.98,377.99 658.59,380.53" fill="#151515"/>
<polygon points="683.20,362.40 674.09,371.65 673.22,368.11 670.61,365.57" fill="#151515"/>
<line x1="49.3" y1="504.6" x2="49.3" y2="547.6" stroke="#111" stroke-width="2.0" />
<line x1="488.7" y1="556.2" x2="488.7" y2="600" stroke="#111" stroke-width="2.0" />
<line x1="721.9" y1="452.4" x2="721.9" y2="494" stroke="#111" stroke-width="2.0" />
<line x1="49.3" y1="514.7" x2="249.4" y2="543" stroke="#111" stroke-width="1.1" />
<line x1="293.6" y1="549.4" x2="488.7" y2="576.5" stroke="#111" stroke-width="1.1" />
<polygon points="49.30,514.70 62.17,512.98 60.69,516.30 61.19,519.91" fill="#151515"/>
<polygon points="488.70,576.50 475.83,578.22 477.31,574.90 476.81,571.29" fill="#151515"/>
<line x1="488.7" y1="576.5" x2="602.8" y2="527.9" stroke="#111" stroke-width="1.1" />
<line x1="645.7" y1="508" x2="718" y2="478" stroke="#111" stroke-width="1.1" />
<polygon points="488.70,576.50 498.80,568.35 499.27,571.96 501.57,574.78" fill="#151515"/>
<polygon points="718.00,478.00 707.90,486.15 707.43,482.54 705.13,479.72" fill="#151515"/>
<g font-family="Liberation Sans" fill="#111" stroke="#111" stroke-width="0.8">
<text transform="translate(213.51,23.90) scale(0.591,1)" font-size="23.29" letter-spacing="3.73">222</text>
<text transform="translate(359.92,29.08) scale(0.639,1)" font-size="21.69" letter-spacing="3.47">432</text>
<text transform="translate(478.52,19.40) scale(0.654,1)" font-size="20.71" letter-spacing="3.31">222</text>
<text transform="translate(529.97,113.38) scale(0.573,1)" font-size="22.39" letter-spacing="3.58">150</text>
<text transform="translate(7.56,99.16) scale(0.577,1)" font-size="23.52" letter-spacing="3.76">350</text>
<text transform="translate(7.15,117.19) scale(0.645,1)" font-size="21.09" letter-spacing="3.37">максимально</text>
<text transform="translate(8.04,302.37) scale(0.618,1)" font-size="22.82" letter-spacing="3.65">587</text>
<text transform="translate(13.08,457.39) scale(0.673,1)" font-size="21.41" letter-spacing="3.43">96</text>
<text transform="translate(163.72,401.87) scale(0.609,1)" font-size="22.82" letter-spacing="3.65">429</text>
<text transform="translate(476.21,399.27) scale(0.611,1)" font-size="22.68" letter-spacing="3.63">693</text>
<text transform="translate(648.62,351.17) scale(0.622,1)" font-size="22.54" letter-spacing="3.61">429</text>
<text transform="translate(253.63,556.97) scale(0.588,1)" font-size="22.68" letter-spacing="3.63">1000</text>
<text transform="translate(606.05,524.58) scale(0.598,1)" font-size="21.97" letter-spacing="3.52">1000</text>
</g>
</svg></body></html>
